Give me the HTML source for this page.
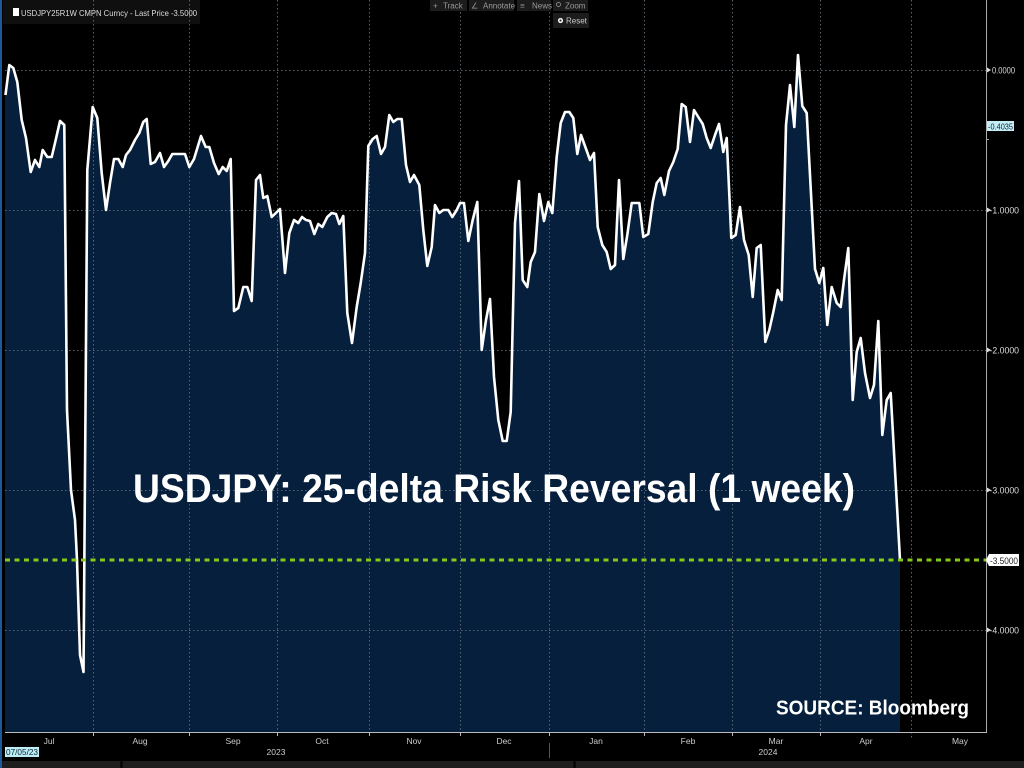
<!DOCTYPE html>
<html><head><meta charset="utf-8"><style>
html,body{margin:0;padding:0;background:#000;width:1024px;height:768px;overflow:hidden}
svg{display:block}
text{font-family:"Liberation Sans",sans-serif}
</style></head><body>
<svg width="1024" height="768" viewBox="0 0 1024 768" xmlns="http://www.w3.org/2000/svg">
<rect x="0" y="0" width="1024" height="768" fill="#000"/>
<!-- legend box -->
<rect x="3" y="0" width="197" height="24" fill="#0f0f0f"/>
<!-- fill -->
<polygon fill="#051f3c" points="5,732 5,95 9.3,65 13.3,68 17.3,82 21.7,120 26,138 30.7,172 35,160 39.3,167 42.7,150 47.3,157 51.7,157 55,143 60,121 64.3,125 67,410 71,490 75,520 77,560 80,655 83.5,672 87.3,170 92.7,107 97.3,118 101.7,173 106,210 110,183 114,159 118.3,159 122.7,167 126,155 130,150 135,140 139.3,133 143.3,122 146.7,119 150.7,164 155,162 160,153 164,167 168.3,161 172.3,154 185,154 189.3,167 194,159 201,136 205.7,147 209.3,147 214,163 218.7,174 222.7,167 226.7,171 230.7,159 234,311 238.3,308 243.3,287 247.3,287 251.7,301 256,180 260,175 263.3,198 267.3,196 271.7,217 280,209 285,273 289.3,233 294,220 298.3,223 302,217 306,220 310,221 314.3,234 318.3,224 322.3,227 327.3,217 331.7,213 336,214 339.3,224 343.3,216 347.3,313 352,343 356.7,307 360.7,283 365,253 368.3,146 372.7,139 376.7,136 381,154 385,147 389.3,115 393.3,122 397.3,119 401.7,119 406,165 410,182 414,175 419.3,185 423.3,230 427.3,266 431.7,247 435,205 439.3,213 443.3,210 448.3,210 452.3,217 456.7,210 460,203 464,203 468.3,241 472.7,220 477.3,202 481.7,350 486,320 490,299 494,377 498.3,420 502.7,441 506.7,441 510.7,412 515,223 519,181 522.7,280 527.3,287 530.7,262 535,252 539.3,194 544,221 548.3,202 552.3,213 556.7,157 560.7,123 565,112 569.3,112 573.3,118 577.3,154 581,135 585.7,148 590,160 594,153 597.7,227 602.3,245 606.7,252 610.7,269 615,265 619,180 623.3,259 627.3,235 631.7,203 639.3,203 643.3,237 648.3,234 652.7,202 656.7,183 660.7,178 664.3,195 669,171 673.3,162 677.7,149 681.7,104 685.7,107 690,142 694,110 698.3,117 702.7,124 706.7,138 710.7,148 715,135 719,124 723.3,152 726.7,138 731.3,238 735.7,235 740,207 744,240 748.7,255 752.7,297 756.7,248 760.7,245 765.3,342 769.3,330 773.3,312 777.7,290 781.7,300 786,125 790,85 794.3,127 798,55 802.3,106 806.7,113 815,269 819.3,283 823.3,268 827.3,325 831.7,287 836.7,303 840.7,307 844,280 848.3,248 852.7,400 856.7,352 860.7,338 865,373 870,398 874,385 878.3,321 882.3,435 886.7,400 890.7,393 900,560 900,732"/>
<!-- gridlines -->
<g stroke="#5c6670" stroke-width="1" stroke-dasharray="1.5 2.5" fill="none">
<line x1="5" y1="70.5" x2="986" y2="70.5"/>
<line x1="5" y1="210.5" x2="986" y2="210.5"/>
<line x1="5" y1="350.5" x2="986" y2="350.5"/>
<line x1="5" y1="490.5" x2="986" y2="490.5"/>
<line x1="5" y1="630.5" x2="986" y2="630.5"/>
<line x1="93.5" y1="0" x2="93.5" y2="732"/>
<line x1="189.5" y1="0" x2="189.5" y2="732"/>
<line x1="277.5" y1="0" x2="277.5" y2="732"/>
<line x1="369.5" y1="0" x2="369.5" y2="732"/>
<line x1="460.5" y1="0" x2="460.5" y2="732"/>
<line x1="549.5" y1="0" x2="549.5" y2="732"/>
<line x1="644.5" y1="0" x2="644.5" y2="732"/>
<line x1="732.5" y1="0" x2="732.5" y2="732"/>
<line x1="820.5" y1="0" x2="820.5" y2="732"/>
<line x1="911.5" y1="0" x2="911.5" y2="740"/>
</g>
<!-- line -->
<polyline fill="none" stroke="#fff" stroke-width="2.6" stroke-linejoin="round" points="5.5,95 9.3,65 13.3,68 17.3,82 21.7,120 26,138 30.7,172 35,160 39.3,167 42.7,150 47.3,157 51.7,157 55,143 60,121 64.3,125 67,410 71,490 75,520 77,560 80,655 83.5,672 87.3,170 92.7,107 97.3,118 101.7,173 106,210 110,183 114,159 118.3,159 122.7,167 126,155 130,150 135,140 139.3,133 143.3,122 146.7,119 150.7,164 155,162 160,153 164,167 168.3,161 172.3,154 185,154 189.3,167 194,159 201,136 205.7,147 209.3,147 214,163 218.7,174 222.7,167 226.7,171 230.7,159 234,311 238.3,308 243.3,287 247.3,287 251.7,301 256,180 260,175 263.3,198 267.3,196 271.7,217 280,209 285,273 289.3,233 294,220 298.3,223 302,217 306,220 310,221 314.3,234 318.3,224 322.3,227 327.3,217 331.7,213 336,214 339.3,224 343.3,216 347.3,313 352,343 356.7,307 360.7,283 365,253 368.3,146 372.7,139 376.7,136 381,154 385,147 389.3,115 393.3,122 397.3,119 401.7,119 406,165 410,182 414,175 419.3,185 423.3,230 427.3,266 431.7,247 435,205 439.3,213 443.3,210 448.3,210 452.3,217 456.7,210 460,203 464,203 468.3,241 472.7,220 477.3,202 481.7,350 486,320 490,299 494,377 498.3,420 502.7,441 506.7,441 510.7,412 515,223 519,181 522.7,280 527.3,287 530.7,262 535,252 539.3,194 544,221 548.3,202 552.3,213 556.7,157 560.7,123 565,112 569.3,112 573.3,118 577.3,154 581,135 585.7,148 590,160 594,153 597.7,227 602.3,245 606.7,252 610.7,269 615,265 619,180 623.3,259 627.3,235 631.7,203 639.3,203 643.3,237 648.3,234 652.7,202 656.7,183 660.7,178 664.3,195 669,171 673.3,162 677.7,149 681.7,104 685.7,107 690,142 694,110 698.3,117 702.7,124 706.7,138 710.7,148 715,135 719,124 723.3,152 726.7,138 731.3,238 735.7,235 740,207 744,240 748.7,255 752.7,297 756.7,248 760.7,245 765.3,342 769.3,330 773.3,312 777.7,290 781.7,300 786,125 790,85 794.3,127 798,55 802.3,106 806.7,113 815,269 819.3,283 823.3,268 827.3,325 831.7,287 836.7,303 840.7,307 844,280 848.3,248 852.7,400 856.7,352 860.7,338 865,373 870,398 874,385 878.3,321 882.3,435 886.7,400 890.7,393 900,560"/>
<!-- green last price line -->
<line x1="5" y1="560" x2="986" y2="560" stroke="#86c81a" stroke-width="3" stroke-dasharray="5 4.5"/>
<!-- axes -->
<line x1="986.5" y1="0" x2="986.5" y2="733" stroke="#aaa" stroke-width="1"/>
<line x1="5" y1="732.5" x2="987" y2="732.5" stroke="#bbb" stroke-width="1"/>
<g stroke="#bbb" stroke-width="1">
<line x1="93.5" y1="733" x2="93.5" y2="736"/><line x1="189.5" y1="733" x2="189.5" y2="736"/>
<line x1="277.5" y1="733" x2="277.5" y2="736"/><line x1="369.5" y1="733" x2="369.5" y2="736"/>
<line x1="460.5" y1="733" x2="460.5" y2="736"/><line x1="549.5" y1="733" x2="549.5" y2="736"/>
<line x1="644.5" y1="733" x2="644.5" y2="736"/><line x1="732.5" y1="733" x2="732.5" y2="736"/>
<line x1="820.5" y1="733" x2="820.5" y2="736"/>
</g>
<!-- right axis labels -->
<g fill="#ddd" font-size="9">
<polygon points="987,67.5 991,70 987,72.5"/><text x="992" y="73.5" textLength="23" lengthAdjust="spacingAndGlyphs">0.0000</text>
<polygon points="987,207.5 991,210 987,212.5"/><text x="989.5" y="213.5" textLength="29.5" lengthAdjust="spacingAndGlyphs">-1.0000</text>
<polygon points="987,347.5 991,350 987,352.5"/><text x="989.5" y="353.5" textLength="29.5" lengthAdjust="spacingAndGlyphs">-2.0000</text>
<polygon points="987,487.5 991,490 987,492.5"/><text x="989.5" y="493.5" textLength="29.5" lengthAdjust="spacingAndGlyphs">-3.0000</text>
<polygon points="987,627.5 991,630 987,632.5"/><text x="989.5" y="633.5" textLength="29.5" lengthAdjust="spacingAndGlyphs">-4.0000</text>
</g>
<line x1="987" y1="139.5" x2="989" y2="139.5" stroke="#aaa"/>
<rect x="987" y="121" width="27" height="10" fill="#c4eef5"/>
<text x="988" y="129.5" font-size="8.5" fill="#0d2233" textLength="25" lengthAdjust="spacingAndGlyphs">-0.4035</text>
<polygon points="986,560 989,554 1019,554 1019,566 989,566" fill="#fff"/>
<text x="990" y="564" font-size="9" fill="#222" textLength="28" lengthAdjust="spacingAndGlyphs">-3.5000</text>
<!-- x labels -->
<g fill="#ccc" font-size="8.5" text-anchor="middle">
<text x="49" y="744">Jul</text><text x="140" y="744">Aug</text><text x="233" y="744">Sep</text>
<text x="322" y="744">Oct</text><text x="414" y="744">Nov</text><text x="504" y="744">Dec</text>
<text x="596" y="744">Jan</text><text x="688" y="744">Feb</text><text x="776" y="744">Mar</text>
<text x="866" y="744">Apr</text><text x="960" y="744">May</text>
<text x="276" y="755">2023</text><text x="768" y="755">2024</text>
</g>
<line x1="549.5" y1="743" x2="549.5" y2="758" stroke="#555"/>
<rect x="5" y="747" width="34" height="10" fill="#bdeef5"/>
<text x="6" y="755" font-size="8.5" fill="#0d2233" textLength="32" lengthAdjust="spacingAndGlyphs">07/05/23</text>
<!-- bottom strip -->
<rect x="0" y="761" width="1024" height="7" fill="#1e1e1e"/>
<line x1="121.5" y1="761" x2="121.5" y2="768" stroke="#000" stroke-width="2"/>
<line x1="574.5" y1="761" x2="574.5" y2="768" stroke="#000" stroke-width="2"/>
<!-- left blue strip -->
<rect x="0" y="0" width="2" height="768" fill="#1a5a9c"/>
<!-- legend -->
<rect x="13" y="8" width="6" height="8" fill="#fff"/>
<text x="21" y="16" font-size="8.5" fill="#ddd" textLength="176" lengthAdjust="spacingAndGlyphs">USDJPY25R1W CMPN Curncy - Last Price -3.5000</text>
<!-- toolbar -->
<g fill="#1c1c1c">
<rect x="430" y="0" width="37" height="11"/><rect x="469" y="0" width="45" height="11"/>
<rect x="517" y="0" width="34" height="11"/><rect x="553" y="0" width="35" height="11"/>
<rect x="553" y="13" width="36" height="15"/>
</g>
<g fill="#9a9a9a" font-size="8">
<text x="433" y="8.5">+</text><text x="443" y="8.5">Track</text>
<text x="471" y="8.5">∠</text><text x="483" y="8.5">Annotate</text>
<text x="520" y="8.5">≡</text><text x="532" y="8.5">News</text>
<text x="565" y="8.5">Zoom</text>
<text x="566" y="23.5" fill="#ccc">Reset</text>
</g>
<circle cx="558.5" cy="4.5" r="2" fill="none" stroke="#9a9a9a" stroke-width="0.8"/>
<circle cx="560.5" cy="20.5" r="2.6" fill="#eee"/>
<circle cx="560.5" cy="20.5" r="1" fill="#1c1c1c"/>
<!-- title -->
<text x="133" y="502" font-size="40" font-weight="bold" fill="#fff" textLength="722" lengthAdjust="spacingAndGlyphs">USDJPY: 25-delta Risk Reversal (1 week)</text>
<text x="776" y="714.5" font-size="20.5" font-weight="bold" fill="#fff" textLength="193" lengthAdjust="spacingAndGlyphs">SOURCE: Bloomberg</text>
</svg>
</body></html>
